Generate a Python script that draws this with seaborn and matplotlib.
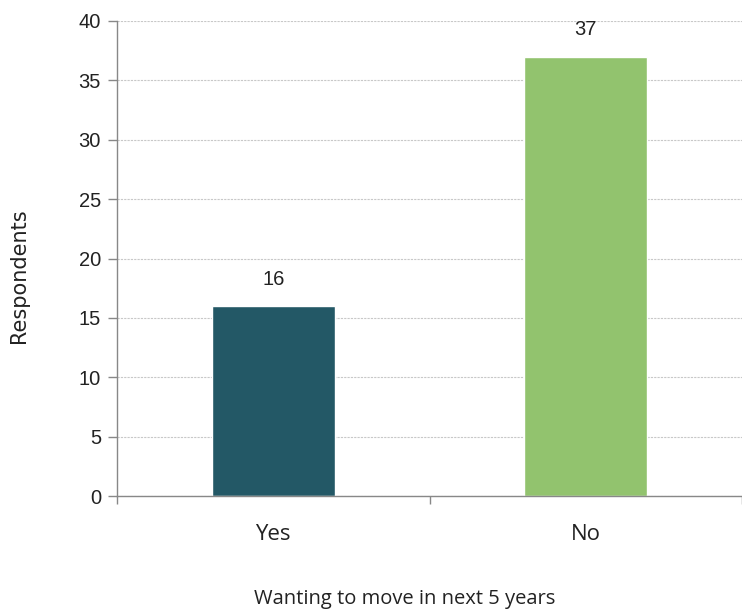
import matplotlib
matplotlib.use("Agg")
import matplotlib.pyplot as plt
import seaborn as sns
import pandas as pd

categories = ["Yes", "No"]
respondents = [16, 37]
bar_colors = ["#235866", "#92C36E"]
y_ticks = [0, 5, 10, 15, 20, 25, 30, 35, 40]

sns.set_theme(style="white")
plt.rcParams["font.family"] = ["Liberation Sans", "DejaVu Sans"]
cat_font = ["Open Sans", "DejaVu Sans"]

df = pd.DataFrame({"answer": categories, "count": respondents})

fig = plt.figure(figsize=(7.42, 6.16), dpi=100)
ax = fig.add_axes([117 / 742, 120 / 616, 1 - 117 / 742, 475 / 616])

sns.barplot(data=df, x="answer", y="count", hue="answer", palette=bar_colors,
            width=0.395, legend=False, ax=ax, saturation=1)

ax.set_xlim(-0.5, 1.5)
ax.set_ylim(0, 40)
ax.set_yticks(y_ticks)
ax.yaxis.grid(True, color="#c8c8c8", linestyle=(0, (2, 1)), linewidth=0.8)
ax.set_axisbelow(True)

for sp in ["top", "right"]:
    ax.spines[sp].set_visible(False)
for sp in ["left", "bottom"]:
    ax.spines[sp].set_color("#888888")
    ax.spines[sp].set_linewidth(1.0)

ax.tick_params(axis="y", left=True, length=6.5, width=1, color="#888888",
               labelsize=14.5, labelcolor="#222222", pad=5)
ax.set_xticks([0, 1])
ax.set_xticklabels(categories, family=cat_font)
ax.tick_params(axis="x", bottom=False, labelsize=16, labelcolor="#222222", pad=14)
# category boundary ticks on the x axis
ax.set_xticks([-0.5, 0.5, 1.5], minor=True)
ax.tick_params(axis="x", which="minor", bottom=True, length=6, width=1, color="#888888")

for i, v in enumerate(respondents):
    ax.text(i, v + 1.45, str(v), ha="center", va="bottom", fontsize=14.5, color="#222222")

ax.set_ylabel("Respondents", fontsize=15, color="#222222", family=["DejaVu Sans"])
ax.yaxis.set_label_coords(-0.14, 0.463)
ax.set_xlabel("Wanting to move in next 5 years", fontsize=14.5, color="#222222",
              family=cat_font)
ax.xaxis.set_label_coords(0.461, -0.195)

fig.savefig("out.png", dpi=100)
